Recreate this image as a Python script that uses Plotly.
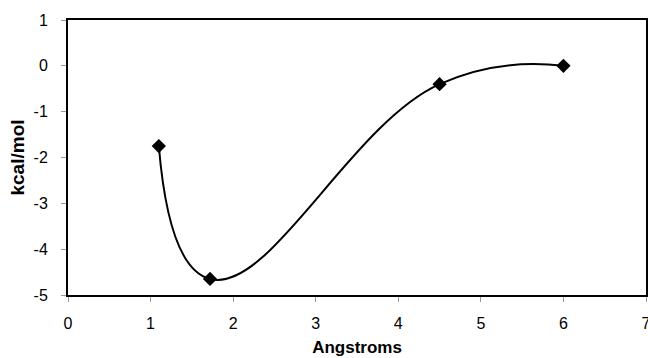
import plotly.graph_objects as go

# Interaction energy vs. separation
distance = [1.1, 1.72, 4.5, 6.0]
energy = [-1.75, -4.65, -0.40, 0.0]

x_ticks = [0, 1, 2, 3, 4, 5, 6, 7]
y_ticks = [1, 0, -1, -2, -3, -4, -5]
y_tick_text = ["1", "0", "-1", "-2", "-3", "-4", "-5"]

FONT = "Liberation Sans, Arial, sans-serif"

fig = go.Figure()
fig.add_trace(go.Scatter(
    x=distance, y=energy,
    mode="lines+markers",
    line=dict(color="black", width=2, shape="spline", smoothing=1.3),
    marker=dict(symbol="diamond", size=11, color="black"),
    showlegend=False,
    cliponaxis=False,
))

axis_common = dict(
    showgrid=False, zeroline=False, automargin=False,
    showline=True, mirror=True, linecolor="black", linewidth=2,
    ticks="outside", ticklen=5, tickwidth=1, tickcolor="#999999",
    tickfont=dict(family=FONT, size=16, color="black"),
    ticklabeloverflow="allow",
)

fig.update_xaxes(
    range=[0, 7], tickvals=x_ticks, ticklabelstandoff=8,
    title=dict(text="<b>Angstroms</b>", standoff=10,
               font=dict(family=FONT, size=17, color="black")),
    **axis_common,
)
fig.update_yaxes(
    range=[-5, 1], tickvals=y_ticks, ticktext=y_tick_text, ticklabelstandoff=10,
    title=dict(text="<b>kcal/mol</b>", standoff=4,
               font=dict(family=FONT, size=19, color="black")),
    **axis_common,
)

fig.update_layout(
    width=648, height=358,
    margin=dict(l=68, r=2, t=20, b=63),
    paper_bgcolor="white", plot_bgcolor="white",
)

fig.write_html("out.html")
